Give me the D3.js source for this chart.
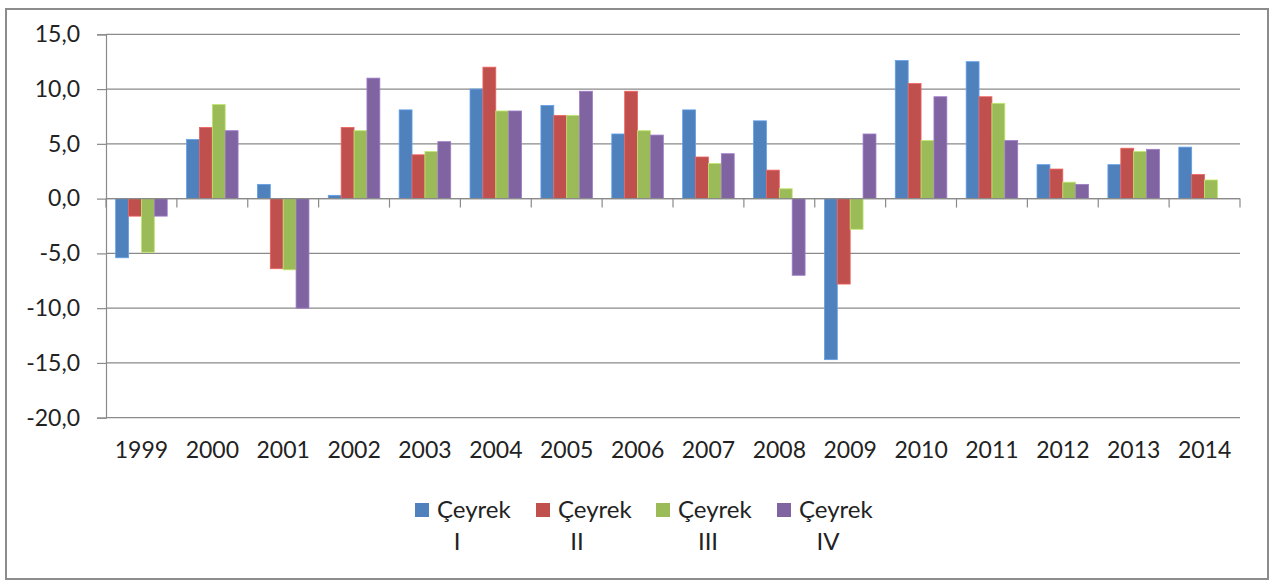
<!DOCTYPE html>
<html>
<head>
<meta charset="utf-8">
<script src="https://cdn.jsdelivr.net/npm/d3@7"></script>
<style>
  body { margin: 0; background: #fff; }
  text { font-family: Lato, "Open Sans", sans-serif; fill: #222; }
</style>
</head>
<body>
<div id="chart"></div>
<script>
const years = ['1999', '2000', '2001', '2002', '2003', '2004', '2005', '2006', '2007', '2008', '2009', '2010', '2011', '2012', '2013', '2014'];
const seriesNames = ['Çeyrek I', 'Çeyrek II', 'Çeyrek III', 'Çeyrek IV'];
const q1 = [-5.4, 5.4, 1.3, 0.3, 8.1, 10.0, 8.5, 5.9, 8.1, 7.1, -14.7, 12.6, 12.5, 3.1, 3.1, 4.7];
const q2 = [-1.6, 6.5, -6.4, 6.5, 4.0, 12.0, 7.6, 9.8, 3.8, 2.6, -7.8, 10.5, 9.3, 2.7, 4.6, 2.2];
const q3 = [-4.9, 8.6, -6.5, 6.2, 4.3, 8.0, 7.6, 6.2, 3.2, 0.9, -2.8, 5.3, 8.7, 1.5, 4.3, 1.7];
const q4 = [-1.6, 6.2, -10.0, 11.0, 5.2, 8.0, 9.8, 5.8, 4.1, -7.0, 5.9, 9.3, 5.3, 1.3, 4.5, null];
const yTicks = [-20, -15, -10, -5, 0, 5, 10, 15];

const colors = ['#4f81bd', '#c0504d', '#9bbb59', '#8064a2'];
const series = [q1, q2, q3, q4];

const W = 1276, H = 581;
const svg = d3.select('#chart').append('svg')
  .attr('width', W)
  .attr('height', H);

// outer frame
svg.append('rect')
  .attr('x', 6).attr('y', 9)
  .attr('width', 1262).attr('height', 570)
  .attr('fill', 'none')
  .attr('stroke', '#8c8c8c')
  .attr('stroke-width', 2);

const x = d3.scaleBand()
  .domain(years)
  .range([106, 1240]);
const xs = d3.scaleBand()
  .domain(d3.range(4))
  .range([0, x.bandwidth()])
  .paddingOuter(0.75);
const y = d3.scaleLinear()
  .domain([-20, 15])
  .range([417.7, 34.3]);

const fmt = v => d3.format('.1f')(v).replace('.', ',').replace('−', '-');

// gridlines
svg.append('g')
  .selectAll('line')
  .data(yTicks)
  .enter().append('line')
  .attr('x1', 106).attr('x2', 1240)
  .attr('y1', d => y(d)).attr('y2', d => y(d))
  .attr('stroke', '#8a8a8a')
  .attr('stroke-width', 1.2);

// y axis
const yAxis = svg.append('g')
  .attr('transform', 'translate(106,0)')
  .call(d3.axisLeft(y).tickValues(yTicks).tickSize(9).tickPadding(17).tickFormat(fmt));
yAxis.select('.domain').attr('stroke', '#8a8a8a').attr('stroke-width', 1.2);
yAxis.selectAll('.tick line').attr('stroke', '#8a8a8a').attr('stroke-width', 1.2);
yAxis.selectAll('text').attr('font-size', 23).attr('font-family', 'Lato').attr('fill', '#222');

// bars
series.forEach((vals, si) => {
  svg.append('g')
    .selectAll('rect')
    .data(years.map((yr, i) => ({ yr, v: vals[i] })).filter(d => d.v != null))
    .enter().append('rect')
    .attr('x', d => x(d.yr) + xs(si))
    .attr('width', xs.bandwidth())
    .attr('y', d => y(Math.max(0, d.v)))
    .attr('height', d => Math.abs(y(d.v) - y(0)))
    .attr('fill', colors[si])
    .attr('stroke', d3.color(colors[si]).brighter(0.6))
    .attr('stroke-width', 0.8);
});

// zero axis with category boundary ticks
svg.append('line')
  .attr('x1', 106).attr('x2', 1240)
  .attr('y1', y(0)).attr('y2', y(0))
  .attr('stroke', '#8a8a8a')
  .attr('stroke-width', 1.2);
svg.append('g')
  .selectAll('line')
  .data(years.map(d => x(d)).concat([x.range()[1]]))
  .enter().append('line')
  .attr('x1', d => d).attr('x2', d => d)
  .attr('y1', y(0)).attr('y2', y(0) + 9)
  .attr('stroke', '#8a8a8a')
  .attr('stroke-width', 1.2);

// category labels
const xAxis = svg.append('g')
  .attr('transform', `translate(0,${y(-20)})`)
  .call(d3.axisBottom(x).tickSize(0).tickPadding(24));
xAxis.select('.domain').remove();
xAxis.selectAll('text').attr('font-size', 23).attr('font-family', 'Lato').attr('fill', '#222');

// legend
const legendX = [415, 536, 656, 777];
const line2Offset = [42, 41, 52, 51];
const legend = svg.append('g');
seriesNames.forEach((name, i) => {
  const parts = name.split(' ');
  legend.append('rect')
    .attr('x', legendX[i]).attr('y', 503)
    .attr('width', 14).attr('height', 14)
    .attr('fill', colors[i]);
  legend.append('text')
    .attr('x', legendX[i] + 22).attr('y', 518)
    .attr('font-size', 24)
    .text(parts[0]);
  legend.append('text')
    .attr('x', legendX[i] + line2Offset[i]).attr('y', 550)
    .attr('text-anchor', 'middle')
    .attr('font-size', 24)
    .text(parts[1]);
});
</script>
</body>
</html>
